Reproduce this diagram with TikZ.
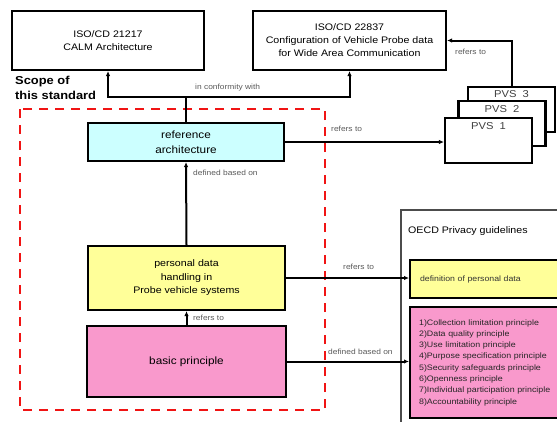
\documentclass[tikz,border=0pt]{standalone}
\usepackage{fontspec}
\setmainfont[FakeStretch=1.12]{Liberation Sans}
\usetikzlibrary{arrows.meta}
\definecolor{cyanfill}{RGB}{204,255,255}
\definecolor{yellowfill}{RGB}{255,255,153}
\definecolor{pinkfill}{RGB}{249,153,204}
\definecolor{labelgray}{RGB}{90,90,90}
\definecolor{scopered}{RGB}{240,20,20}
\tikzset{
  box/.style={draw=black, line width=2.2pt, rectangle, inner sep=2pt, align=center},
  conn/.style={draw=black, line width=2pt},
  arr/.style={conn, -{Latex[length=5pt,width=4.5pt]}},
  lbl/.style={text=labelgray, font=\fontsize{7.5}{9}\selectfont, inner sep=0pt},
  pvsbox/.style={draw=black, line width=2.2pt, fill=white, minimum width=87pt, minimum height=45pt, inner sep=0pt},
  pvslbl/.style={font=\fontsize{10}{12}\selectfont, text=black!75, inner sep=0pt},
}
\begin{document}
\begin{tikzpicture}[x=1pt,y=-1pt]
\clip (0,0) rectangle (557,421);
\fill[white] (0,0) rectangle (557,421);

% top boxes
\node[box, minimum width=192pt, minimum height=59pt, font=\fontsize{9.5}{12.5}\selectfont] (iso1) at (108,40.5) {ISO/CD 21217\\CALM Architecture};
\node[box, minimum width=193pt, minimum height=59pt, font=\fontsize{9.5}{13}\selectfont] (iso2) at (349.5,40.5) {ISO/CD 22837\\Configuration of Vehicle Probe data\\for Wide Area Communication};

% scope label
\node[anchor=west, align=left, font=\bfseries\fontsize{11.5}{14.5}\selectfont, inner sep=0pt] (scope) at (15,88) {Scope of\\this standard};

% red dashed scope
\draw[scopered, line width=2.4pt, dash pattern=on 9pt off 7pt] (20,109) rectangle (325,410);

% inner boxes
\node[box, fill=cyanfill, minimum width=196pt, minimum height=38pt, font=\fontsize{10.5}{15}\selectfont] (refarch) at (186,142) {reference\\architecture};
\node[box, fill=yellowfill, minimum width=197pt, minimum height=64pt, font=\fontsize{9.5}{13.5}\selectfont] (pdh) at (186.5,278) {personal data\\handling in\\Probe vehicle systems};
\node[box, fill=pinkfill, minimum width=199pt, minimum height=71pt, font=\fontsize{10.5}{13}\selectfont] (basic) at (186.5,361.5) {basic principle};

% PVS stack
\node[pvsbox] (pvs3) at (511.5,109.5) {};
\node[pvslbl] (pvs3l) at (511.5,94) {PVS\ \ 3};
\node[pvsbox] (pvs2) at (502,123.5) {};
\node[pvslbl] (pvs2l) at (502,109) {PVS\ \ 2};
\node[pvsbox] (pvs1) at (488.5,140.5) {};
\node[pvslbl] (pvs1l) at (488.5,126) {PVS\ \ 1};

% OECD group
\draw[line width=1.4pt, draw=black!70] (401,430) -- (401,210) -- (570,210);
\node[anchor=west, inner sep=0pt, font=\fontsize{9.5}{11}\selectfont] (oecd) at (408,231) {OECD Privacy guidelines};
\node[draw=black, line width=2.2pt, fill=yellowfill, anchor=north west, minimum width=160pt, minimum height=38pt, text width=140pt, inner xsep=9pt, align=left, font=\fontsize{7.8}{9}\selectfont, text=black!80] (def) at (409,259) {definition of personal data};
\node[draw=black, line width=2.2pt, fill=pinkfill, anchor=north west, minimum width=160pt, minimum height=111pt, text width=142pt, inner xsep=8pt, align=left, font=\fontsize{7.9}{11.3}\selectfont, text=black!85] (list) at (409,306) {1)Collection limitation principle\\2)Data quality principle\\3)Use limitation principle\\4)Purpose specification principle\\5)Security safeguards principle\\6)Openness principle\\7)Individual participation principle\\8)Accountability principle};

% connectors
\coordinate (j) at (186,97);
\draw[conn] (refarch.north) -- (j);
\draw[arr] (j) -| (iso1.south);
\draw[arr] (j) -| (iso2.south);
\node[lbl, anchor=west] (lconf) at (195,88) {in conformity with};

\draw[arr] (refarch.east) -- (refarch.east -| pvs1.west);
\node[lbl, anchor=west] (lref1) at (331,129) {refers to};

\draw[arr] (pvs3.north) |- (iso2.east);
\node[lbl, anchor=west] (lref2) at (455,52) {refers to};

\draw[arr] (pdh.north) -- (refarch.south);
\node[lbl, anchor=west] (ldef1) at (193,173) {defined based on};

\draw[arr] (basic.north) -- (pdh.south);
\node[lbl, anchor=west] (lref3) at (193,318) {refers to};

\draw[arr] (pdh.east) -- (pdh.east -| def.west);
\node[lbl, anchor=west] (lref4) at (343,267) {refers to};

\draw[arr] (basic.east) -- (basic.east -| list.west);
\node[lbl, anchor=west] (ldef2) at (328,352) {defined based on};
\end{tikzpicture}
\end{document}
